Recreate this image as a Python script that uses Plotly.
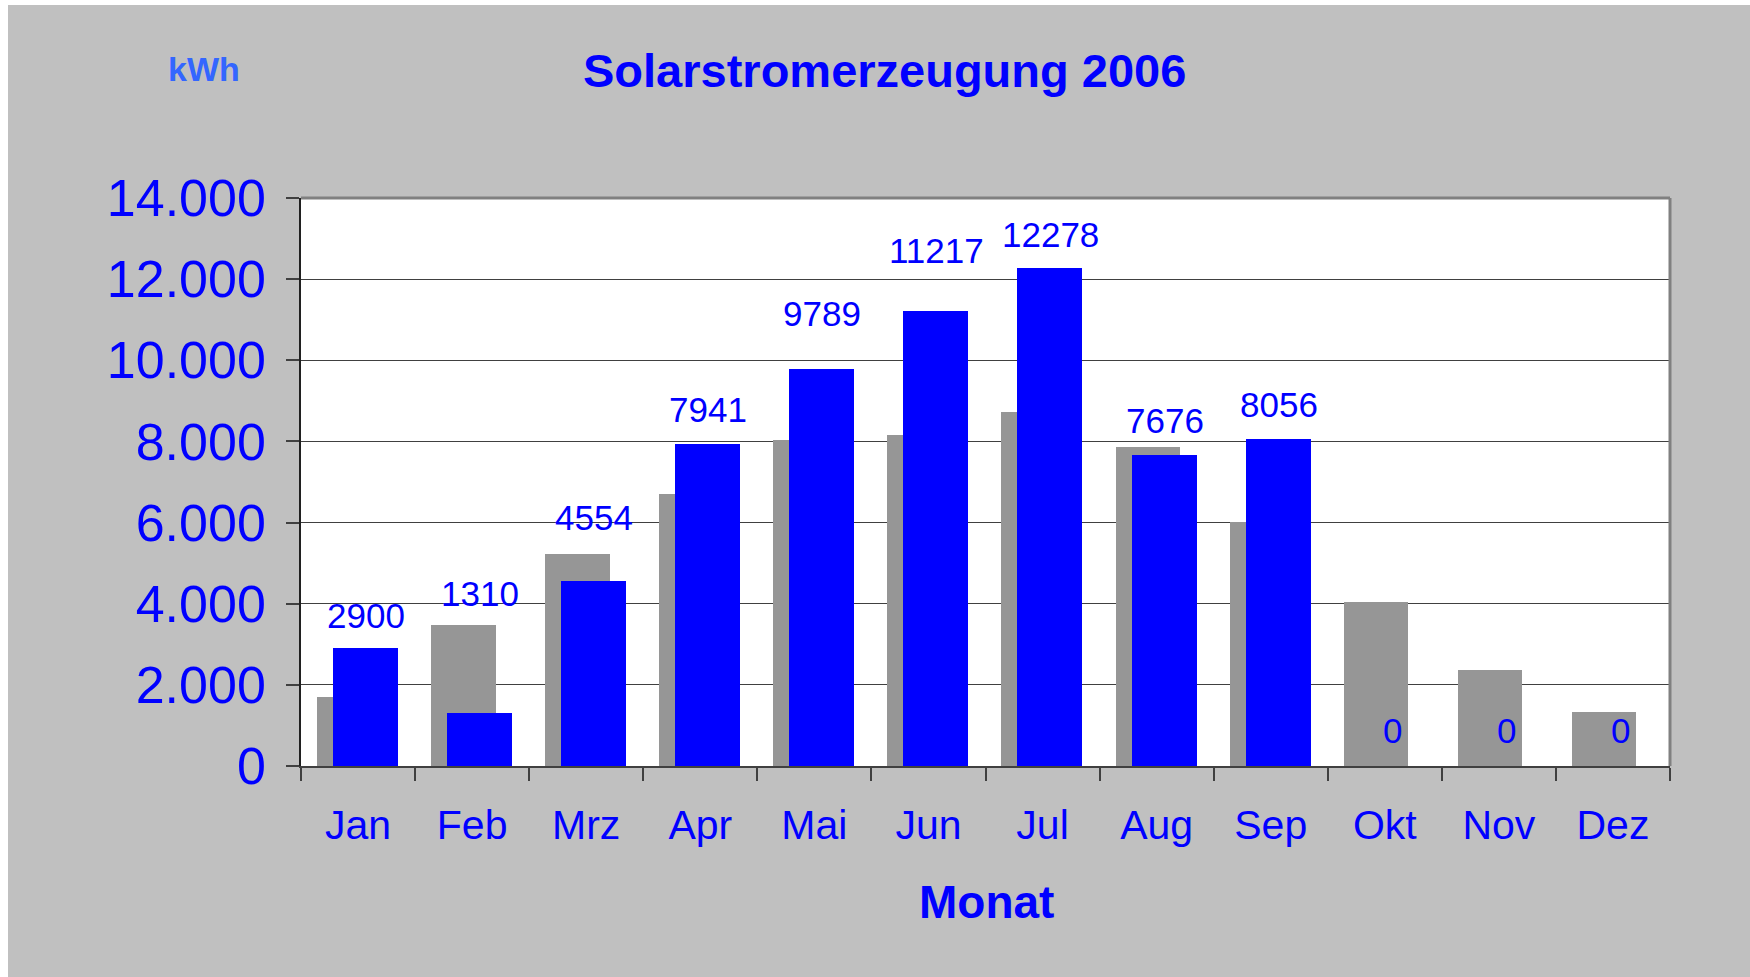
import plotly.graph_objects as go

# ---- data ----
months = ["Jan", "Feb", "Mrz", "Apr", "Mai", "Jun", "Jul", "Aug", "Sep", "Okt", "Nov", "Dez"]
kwh_prev = [1700, 3470, 5220, 6710, 8040, 8150, 8730, 7870, 6020, 4050, 2370, 1340]
kwh_2006 = [2900, 1310, 4554, 7941, 9789, 11217, 12278, 7676, 8056, 0, 0, 0]
y_ticks = [0, 2000, 4000, 6000, 8000, 10000, 12000, 14000]

# ---- style ----
W, H = 1750, 977
L, R, T, B = 301, 1670, 198, 766          # plot area in pixels
BLUE = "#0000FF"
GRAY_BAR = "#969696"
BG = "#C0C0C0"
FONT = "Arial, Liberation Sans, sans-serif"
label_gap = [20, 107, 51, 22, 43, 48, 21, 22, 22, 23, 23, 23]   # px from bar top to label baseline

def px_to_paper_x(px):
    return (px - L) / (R - L)

def px_to_paper_y(py):
    return (B - py) / (B - T)

fig = go.Figure()
fig.add_trace(go.Bar(
    x=months, y=kwh_prev, name="Vorjahr",
    marker=dict(color=GRAY_BAR, line=dict(width=0)),
    width=0.565, offset=-0.36, hoverinfo="x+y",
))
fig.add_trace(go.Bar(
    x=months, y=kwh_2006, name="2006",
    marker=dict(color=BLUE, line=dict(width=0)),
    width=0.57, offset=-0.22, hoverinfo="x+y",
))

annotations = []
for m, v, g in zip(months, kwh_2006, label_gap):
    annotations.append(dict(
        x=m, y=v, xref="x", yref="y", text=str(v), showarrow=False,
        xanchor="center", yanchor="bottom", xshift=8, yshift=g - 9,
        font=dict(family=FONT, size=35, color=BLUE),
    ))

annotations.append(dict(
    x=px_to_paper_x(204), y=px_to_paper_y(69), xref="paper", yref="paper",
    text="<b>kWh</b>", showarrow=False, xanchor="center", yanchor="middle",
    font=dict(family=FONT, size=34, color="#3366FF"),
))
annotations.append(dict(
    x=px_to_paper_x(986), y=px_to_paper_y(902), xref="paper", yref="paper",
    text="<b>Monat</b>", showarrow=False, xanchor="center", yanchor="middle",
    font=dict(family=FONT, size=46, color=BLUE),
))
annotations.append(dict(
    x=px_to_paper_x(884), y=px_to_paper_y(71), xref="paper", yref="paper",
    text="<b>Solarstromerzeugung 2006</b>", showarrow=False, xanchor="center", yanchor="middle",
    font=dict(family=FONT, size=47, color=BLUE),
))

shapes = [
    # thin white strips at left and top edge of the picture
    dict(type="rect", xref="paper", yref="paper", layer="below",
         x0=px_to_paper_x(0), x1=px_to_paper_x(8), y0=px_to_paper_y(H), y1=px_to_paper_y(0),
         fillcolor="white", line=dict(width=0)),
    dict(type="rect", xref="paper", yref="paper", layer="below",
         x0=px_to_paper_x(0), x1=px_to_paper_x(W), y0=px_to_paper_y(5), y1=px_to_paper_y(0),
         fillcolor="white", line=dict(width=0)),
    # plot frame top & right (gray)
    dict(type="line", xref="paper", yref="paper", x0=0, x1=1, y0=1, y1=1,
         line=dict(color="#808080", width=3)),
    dict(type="line", xref="paper", yref="paper", x0=1, x1=1, y0=0, y1=1,
         line=dict(color="#808080", width=3)),
]

fig.update_layout(
    width=W, height=H,
    margin=dict(l=L, r=W - R, t=T, b=H - B, pad=0),
    paper_bgcolor=BG, plot_bgcolor="white",
    barmode="overlay", bargap=0,
    showlegend=False,
    separators=",.",
    annotations=annotations,
    shapes=shapes,
    font=dict(family=FONT, color=BLUE),
)
fig.update_xaxes(
    type="category", categoryorder="array", categoryarray=months,
    range=[-0.5, 11.5],
    showline=True, linecolor="#404040", linewidth=2,
    ticks="outside", ticklen=13, tickwidth=1.5, tickcolor="#404040",
    tickson="boundaries",
    tickfont=dict(family=FONT, size=41, color=BLUE),
    ticklabelstandoff=22,
    showgrid=False, zeroline=False,
)
fig.update_yaxes(
    range=[0, 14000], tickvals=y_ticks, tickformat=",d",
    showline=True, linecolor="#202020", linewidth=1.5,
    ticks="outside", ticklen=13, tickwidth=1.5, tickcolor="#404040",
    tickfont=dict(family=FONT, size=52, color=BLUE),
    ticklabelstandoff=10,
    showgrid=True, gridcolor="#404040", gridwidth=1.2,
    zeroline=False,
)

fig.write_html("out.html")
